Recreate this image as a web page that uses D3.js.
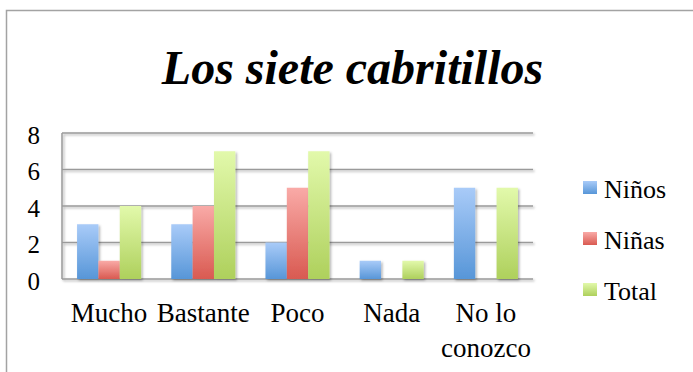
<!DOCTYPE html>
<html>
<head>
<meta charset="utf-8">
<script src="https://cdn.jsdelivr.net/npm/d3@7"></script>
<style>
  html, body { margin: 0; padding: 0; background: #fff; }
  svg { display: block; font-family: "Liberation Serif", "DejaVu Serif", "Times New Roman", serif; }
</style>
</head>
<body>
<svg id="chart" width="693" height="372"></svg>
<script>
// Survey results for "Los siete cabritillos"
const categories = ["Mucho", "Bastante", "Poco", "Nada", "No lo conozco"];
const seriesNames = ["Niños", "Niñas", "Total"];
const ninos = [3, 3, 2, 1, 5];
const ninas = [1, 4, 5, 0, 0];
const total = [4, 7, 7, 1, 5];
const yTicks = [0, 2, 4, 6, 8];

const serif = "'Liberation Serif', 'DejaVu Serif', 'Times New Roman', serif";
const seriesValues = [ninos, ninas, total];
const gradients = [
  { id: "gNinos", top: "#a9cbf8", bottom: "#5796d8" },
  { id: "gNinas", top: "#f9aaa7", bottom: "#d95a51" },
  { id: "gTotal", top: "#e2f9ab", bottom: "#aed05c" }
];

const svg = d3.select("#chart");
const defs = svg.append("defs");
gradients.forEach(g => {
  const lg = defs.append("linearGradient").attr("id", g.id)
    .attr("x1", 0).attr("y1", 0).attr("x2", 0).attr("y2", 1);
  lg.append("stop").attr("offset", "0%").attr("stop-color", g.top);
  lg.append("stop").attr("offset", "100%").attr("stop-color", g.bottom);
});
const shadow = defs.append("filter").attr("id", "shadow")
  .attr("x", "-20%").attr("y", "-20%").attr("width", "160%").attr("height", "160%");
shadow.append("feDropShadow").attr("dx", 1.5).attr("dy", 1.5)
  .attr("stdDeviation", 1.2).attr("flood-color", "#000").attr("flood-opacity", 0.3);

// Outer frame
svg.append("rect")
  .attr("x", 6.5).attr("y", 10.5).attr("width", 720).attr("height", 400)
  .attr("fill", "none").attr("stroke", "#a3a3a3").attr("stroke-width", 1.5);

// Title
svg.append("text")
  .attr("x", 352.5).attr("y", 84)
  .attr("text-anchor", "middle")
  .style("font-family", serif)
  .style("font-size", "48px").style("font-weight", "bold").style("font-style", "italic")
  .attr("fill", "#000")
  .text("Los siete cabritillos");

const plot = { left: 62, right: 533, top: 133, bottom: 279 };

const x0 = d3.scaleBand().domain(categories)
  .range([plot.left, plot.right]).paddingInner(0.32).paddingOuter(0.16);
const x1 = d3.scaleBand().domain(seriesNames).range([0, x0.bandwidth()]);
const y = d3.scaleLinear().domain([0, 8]).range([plot.bottom, plot.top]);

// Gridlines
const grid = svg.append("g").attr("filter", "url(#shadow)");
grid.selectAll("line.grid").data(yTicks).join("line")
  .attr("x1", plot.left).attr("x2", plot.right)
  .attr("y1", d => y(d)).attr("y2", d => y(d))
  .attr("stroke", "#9a9a9a").attr("stroke-width", 1.5);
grid.append("line")
  .attr("x1", plot.left).attr("x2", plot.left)
  .attr("y1", plot.top).attr("y2", plot.bottom)
  .attr("stroke", "#9a9a9a").attr("stroke-width", 1.5);

// Y axis labels
const yAxis = d3.axisLeft(y).tickValues(yTicks).tickSize(0).tickPadding(22);
const ya = svg.append("g").attr("transform", `translate(${plot.left},0)`).call(yAxis);
ya.select(".domain").remove();
ya.selectAll("text").style("font-size", "25px")
  .style("font-family", serif)
  .attr("fill", "#000")
  .attr("dy", "0.4em");

// Bars
const groups = svg.append("g").selectAll("g").data(categories).join("g")
  .attr("transform", c => `translate(${x0(c)},0)`);
groups.selectAll("rect")
  .data((c, i) => seriesNames.map((s, j) => ({ s, j, v: seriesValues[j][i] })))
  .join("rect")
  .filter(d => d.v > 0)
  .attr("x", d => x1(d.s))
  .attr("width", x1.bandwidth())
  .attr("y", d => y(d.v))
  .attr("height", d => y(0) - y(d.v))
  .attr("fill", d => `url(#${gradients[d.j].id})`)
  .attr("filter", "url(#shadow)");

// X axis labels (last category wraps onto two lines)
const xAxis = d3.axisBottom(x0).tickSize(0).tickPadding(0);
const xa = svg.append("g").attr("transform", `translate(0,${plot.bottom})`).call(xAxis);
xa.select(".domain").remove();
xa.selectAll("text").remove();
xa.selectAll(".tick").each(function(c) {
  const words = c === "No lo conozco" ? ["No lo", "conozco"] : [c];
  const t = d3.select(this).append("text")
    .attr("text-anchor", "middle")
    .style("font-size", "27px")
    .style("font-family", serif)
    .attr("fill", "#000");
  words.forEach((w, i) => t.append("tspan").attr("x", 0).attr("y", 43 + i * 35).text(w));
});

// Legend
const legend = svg.append("g").attr("transform", "translate(583,181)");
const li = legend.selectAll("g").data(seriesNames).join("g")
  .attr("transform", (d, i) => `translate(0,${i * 51})`);
li.append("rect").attr("width", 14).attr("height", 13)
  .attr("fill", (d, i) => `url(#${gradients[i].id})`);
li.append("text").attr("x", 21).attr("y", 17)
  .style("font-family", serif)
  .style("font-size", "26px").attr("fill", "#000").text(d => d);
</script>
</body>
</html>
